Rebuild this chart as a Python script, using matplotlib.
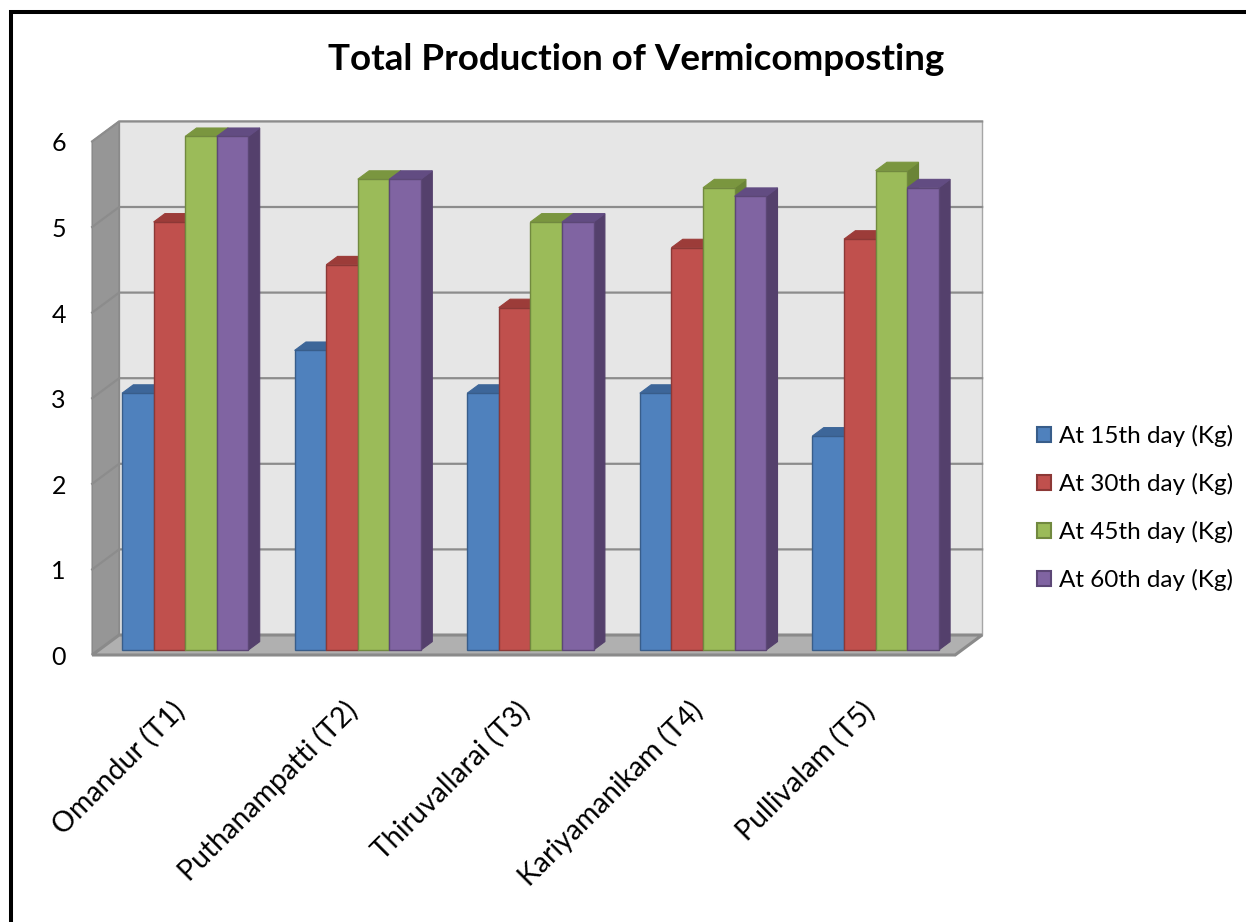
import matplotlib
matplotlib.use("Agg")
import matplotlib.pyplot as plt
from matplotlib.patches import Polygon, Patch
from matplotlib.lines import Line2D

plt.rcParams['font.family'] = ['Lato', 'DejaVu Sans']

categories = ['Omandur (T1)', 'Puthanampatti (T2)', 'Thiruvallarai (T3)',
              'Kariyamanikam (T4)', 'Pullivalam (T5)']
series_labels = ['At 15th day (Kg)', 'At 30th day (Kg)',
                 'At 45th day (Kg)', 'At 60th day (Kg)']
day15 = [3, 3.5, 3, 3, 2.5]
day30 = [5, 4.5, 4, 4.7, 4.8]
day45 = [6, 5.5, 5, 5.4, 5.6]
day60 = [6, 5.5, 5, 5.3, 5.4]
yticks = [0, 1, 2, 3, 4, 5, 6]

series = [day15, day30, day45, day60]
face_colors = ['#4f81bd', '#c0504d', '#9bbb59', '#8064a2']
top_colors = ['#3d6699', '#9c3c39', '#7a963f', '#624c82']
side_colors = ['#365a86', '#873230', '#6a8437', '#54406c']
edge_colors = ['#385d8a', '#8c3836', '#71893f', '#5c4776']

W, H = 1246, 922
fig = plt.figure(figsize=(W / 100, H / 100), dpi=100)
ax = fig.add_axes([0, 0, 1, 1])
# pixels per category slot / per kg on the front plane of the box
px_x, px_y = 172.6, 85.6
ax.set_xlim(-178.45 / px_x, (W - 178.45) / px_x)
ax.set_ylim(-(H - 655) / px_y, 655 / px_y)
ax.axis('off')

DX, DY = 27 / px_x, 20 / px_y   # full depth of the box
ymax = yticks[-1]
x0, x1 = -0.5, len(categories) - 0.5


def at(x, y, d):
    return (x + d * DX, y + d * DY)


def poly(pts, fc, ec, lw=1.0, z=1):
    ax.add_patch(Polygon(pts, closed=True, facecolor=fc, edgecolor=ec,
                         linewidth=lw, zorder=z, joinstyle='miter'))


# back wall, side wall, floor
poly([at(x0, 0, 1), at(x1, 0, 1), at(x1, ymax, 1), at(x0, ymax, 1)],
     '#e6e6e6', '#a6a6a6', 1.0, 1)
poly([at(x0, 0, 0), at(x0, 0, 1), at(x0, ymax, 1), at(x0, ymax, 0)],
     '#969696', '#868686', 1.0, 1)
poly([at(x0, 0, 0), at(x1, 0, 0), at(x1, 0, 1), at(x0, 0, 1)],
     '#b0b0b0', '#8a8a8a', 2.2, 2)

# gridlines on the back and side walls
for v in yticks[1:]:
    xs, ys = zip(at(x0, v, 0), at(x0, v, 1), at(x1, v, 1))
    ax.plot(xs, ys, color='#8c8c8c', lw=1.6, zorder=3, solid_joinstyle='miter')

# bars: front face, top, right side
bw = 0.183
z0, z1 = 0.25, 0.67
for i in range(len(categories)):
    for j, vals in enumerate(series):
        v = vals[i]
        left = i - 2 * bw + j * bw
        right = left + bw
        poly([at(right, 0, z0), at(right, 0, z1), at(right, v, z1), at(right, v, z0)],
             side_colors[j], side_colors[j], 0.8, 4)
        poly([at(left, v, z0), at(right, v, z0), at(right, v, z1), at(left, v, z1)],
             top_colors[j], top_colors[j], 0.8, 4)
        poly([at(left, 0, z0), at(right, 0, z0), at(right, v, z0), at(left, v, z0)],
             face_colors[j], edge_colors[j], 1.0, 4)

# value axis labels
for v in yticks:
    ax.text(-0.652, v - 0.03, str(v), ha='right', va='center', fontsize=18,
            color='black')

# category labels
for i, name in enumerate(categories):
    ax.text(i + 0.01, -0.6, name, rotation=45, rotation_mode='anchor',
            ha='right', va='center', fontsize=20.5, color='black')

fig.text(636 / W, 1 - 60 / H, 'Total Production of Vermicomposting',
         ha='center', va='center', fontsize=26.5, fontweight='bold')

handles = [Patch(facecolor=face_colors[j], edgecolor=edge_colors[j], linewidth=1.5)
           for j in range(len(series))]
fig.legend(handles, series_labels, loc='center left',
           bbox_to_anchor=(1027 / W, 1 - 508 / H), frameon=False,
           fontsize=17.5, handlelength=0.6, handleheight=0.6,
           handletextpad=0.3, labelspacing=1.06, borderaxespad=0)

# frame on the left and top edges
fig.add_artist(Line2D([10.5 / W, 10.5 / W, 1], [0, 1 - 12.5 / H, 1 - 12.5 / H],
                      color='black', lw=2.9, transform=fig.transFigure,
                      solid_joinstyle='miter'))

fig.savefig('out.png', dpi=100, facecolor='white')
